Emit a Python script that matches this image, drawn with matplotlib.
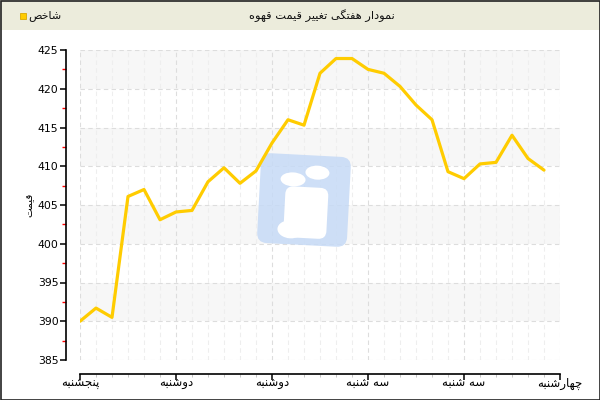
"""
نمودار هفتگی تغییر قیمت قهوه - بازسازی با matplotlib
"""

import numpy as np
import matplotlib
matplotlib.use("Agg")
import matplotlib.pyplot as plt
from matplotlib.patches import FancyBboxPatch, Ellipse, Rectangle
from matplotlib.transforms import Affine2D
from matplotlib.ticker import MultipleLocator

matplotlib.rcParams["font.family"] = ["DejaVu Sans"]

# ── داده‌ها ───────────────────────────────────────────────────────────────────
day_labels = ["پنجشنبه", "دوشنبه", "دوشنبه", "سه شنبه", "سه شنبه", "چهارشنبه"]
price = [390.0, 391.7, 390.5, 406.1, 407.0, 403.1, 404.1, 404.3, 408.0, 409.8,
         407.8, 409.4, 413.0, 416.0, 415.3, 422.0, 423.9, 423.9, 422.5, 422.0,
         420.3, 417.9, 416.0, 409.3, 408.4, 410.3, 410.5, 414.0, 411.0, 409.5]
points_per_day = 6
title_text = "نمودار هفتگی تغییر قیمت قهوه"
legend_text = "شاخص"
ylabel_text = "قیمت"

C_LINE = "#FFCC00"
C_HEAD = "#ECECDC"
C_BAND = "#F7F7F7"
C_LOGO = "#C6DAF6"

# ── شکل‌دهی ساده‌ی حروف فارسی (بدون کتابخانه‌ی بیرونی) ─────────────────────────
# isolated, final, initial, medial
FORMS = {
    "ا": (0xFE8D, 0xFE8E, None, None),
    "ب": (0xFE8F, 0xFE90, 0xFE91, 0xFE92),
    "پ": (0xFB56, 0xFB57, 0xFB58, 0xFB59),
    "ت": (0xFE95, 0xFE96, 0xFE97, 0xFE98),
    "ج": (0xFE9D, 0xFE9E, 0xFE9F, 0xFEA0),
    "چ": (0xFB7A, 0xFB7B, 0xFB7C, 0xFB7D),
    "خ": (0xFEA5, 0xFEA6, 0xFEA7, 0xFEA8),
    "د": (0xFEA9, 0xFEAA, None, None),
    "ر": (0xFEAD, 0xFEAE, None, None),
    "س": (0xFEB1, 0xFEB2, 0xFEB3, 0xFEB4),
    "ش": (0xFEB5, 0xFEB6, 0xFEB7, 0xFEB8),
    "ص": (0xFEB9, 0xFEBA, 0xFEBB, 0xFEBC),
    "غ": (0xFECD, 0xFECE, 0xFECF, 0xFED0),
    "ف": (0xFED1, 0xFED2, 0xFED3, 0xFED4),
    "ق": (0xFED5, 0xFED6, 0xFED7, 0xFED8),
    "گ": (0xFB92, 0xFB93, 0xFB94, 0xFB95),
    "م": (0xFEE1, 0xFEE2, 0xFEE3, 0xFEE4),
    "ن": (0xFEE5, 0xFEE6, 0xFEE7, 0xFEE8),
    "ه": (0xFEE9, 0xFEEA, 0xFEEB, 0xFEEC),
    "و": (0xFEED, 0xFEEE, None, None),
    "ی": (0xFBFC, 0xFBFD, 0xFBFE, 0xFBFF),
}


def fa(s):
    out = []
    for i, c in enumerate(s):
        if c not in FORMS:
            out.append(c)
            continue
        prev = s[i - 1] if i > 0 else ""
        nxt = s[i + 1] if i + 1 < len(s) else ""
        jp = prev in FORMS and FORMS[prev][2] is not None
        jn = FORMS[c][2] is not None and nxt in FORMS
        idx = {(False, False): 0, (True, False): 1,
               (False, True): 2, (True, True): 3}[(jp, jn)]
        out.append(chr(FORMS[c][idx]))
    return "".join(reversed(out))


# ── شکل ───────────────────────────────────────────────────────────────────────
W, H = 600, 400
fig = plt.figure(figsize=(6, 4), dpi=100)
fig.patch.set_facecolor("white")

# نوار عنوان
fig.add_artist(Rectangle((0, 1 - 30 / H), 1, 30 / H, transform=fig.transFigure,
                         facecolor=C_HEAD, edgecolor="none", zorder=0))
fig.add_artist(Rectangle((0.5 / W, 0.5 / H), 1 - 1 / W, 1 - 1 / H,
                         transform=fig.transFigure, facecolor="none",
                         edgecolor="#222222", lw=1.2, zorder=5))
fig.text(322 / W, 1 - 15.5 / H, fa(title_text), ha="center", va="center",
         fontsize=8.2, color="#111111")
fig.add_artist(Rectangle((20 / W, 1 - 19 / H), 5.5 / W, 5.5 / H,
                         transform=fig.transFigure, facecolor=C_LINE,
                         edgecolor="#D9A800", lw=0.6))
fig.text(28 / W, 1 - 15.5 / H, fa(legend_text), ha="left", va="center",
         fontsize=8, color="#111111")

# ناحیه‌ی نمودار
ax = fig.add_axes([80 / W, 1 - 360 / H, 480 / W, 310 / H])
ax.set_facecolor("white")

x = np.arange(len(price)) / points_per_day
ax.set_xlim(0, len(day_labels) - 1)
ax.set_ylim(385, 425)

# نوارهای خاکستری متناوب
for lo in range(390, 425, 10):
    ax.axhspan(lo, lo + 5, color=C_BAND, lw=0, zorder=0)

ax.xaxis.set_major_locator(MultipleLocator(1))
ax.xaxis.set_minor_locator(MultipleLocator(1 / points_per_day))
ax.yaxis.set_major_locator(MultipleLocator(5))
ax.yaxis.set_minor_locator(MultipleLocator(2.5))

ax.grid(which="major", axis="both", color="#DDDDDD", ls=(0, (4, 3)), lw=0.8, zorder=1)
ax.grid(which="minor", axis="x", color="#EEEEEE", ls=(0, (4, 3)), lw=0.8, zorder=1)
ax.set_axisbelow(True)

ax.plot(x, price, color=C_LINE, lw=2.3, solid_joinstyle="round",
        solid_capstyle="round", zorder=4)

for s in ("top", "right"):
    ax.spines[s].set_visible(False)
for s in ("left", "bottom"):
    ax.spines[s].set_position(("outward", 10))
    ax.spines[s].set_linewidth(1.2)

ax.set_xticks(range(len(day_labels)))
ax.set_xticklabels([fa(d) for d in day_labels], fontsize=8.5)
ax.tick_params(axis="both", which="major", length=4, width=1.1, color="black",
               labelsize=7.8, pad=1.5)
ax.tick_params(axis="x", which="major", labelsize=8.5, pad=-2)
ax.tick_params(axis="x", which="minor", length=2, width=0.6, color="#BBBBBB")
ax.tick_params(axis="y", which="minor", length=3, width=1.0, color="red")
ax.set_ylabel(fa(ylabel_text), fontsize=7.5)
ax.yaxis.set_label_coords(-46 / 480, 0.5)

# نشان آبی کم‌رنگ (واترمارک)
px = Affine2D().rotate_deg_around(304, 200, 3).scale(1 / W, -1 / H).translate(0, 1) + fig.transFigure
ax.add_patch(FancyBboxPatch((259, 155), 90, 90, boxstyle="round,pad=0,rounding_size=10",
                            facecolor=C_LOGO, edgecolor="none", alpha=0.85,
                            transform=px, clip_on=False, zorder=2))
for cx, cy, ew, eh in [(292, 180, 25, 14), (316, 172, 24, 14), (292, 230, 26, 18)]:
    ax.add_patch(Ellipse((cx, cy), ew, eh, facecolor="white", edgecolor="none",
                         transform=px, clip_on=False, zorder=2.5))
ax.add_patch(FancyBboxPatch((285, 187), 43, 51, boxstyle="round,pad=0,rounding_size=8",
                            facecolor="white", edgecolor="none",
                            transform=px, clip_on=False, zorder=2.5))

fig.savefig("out.png", dpi=100, facecolor=fig.get_facecolor())
